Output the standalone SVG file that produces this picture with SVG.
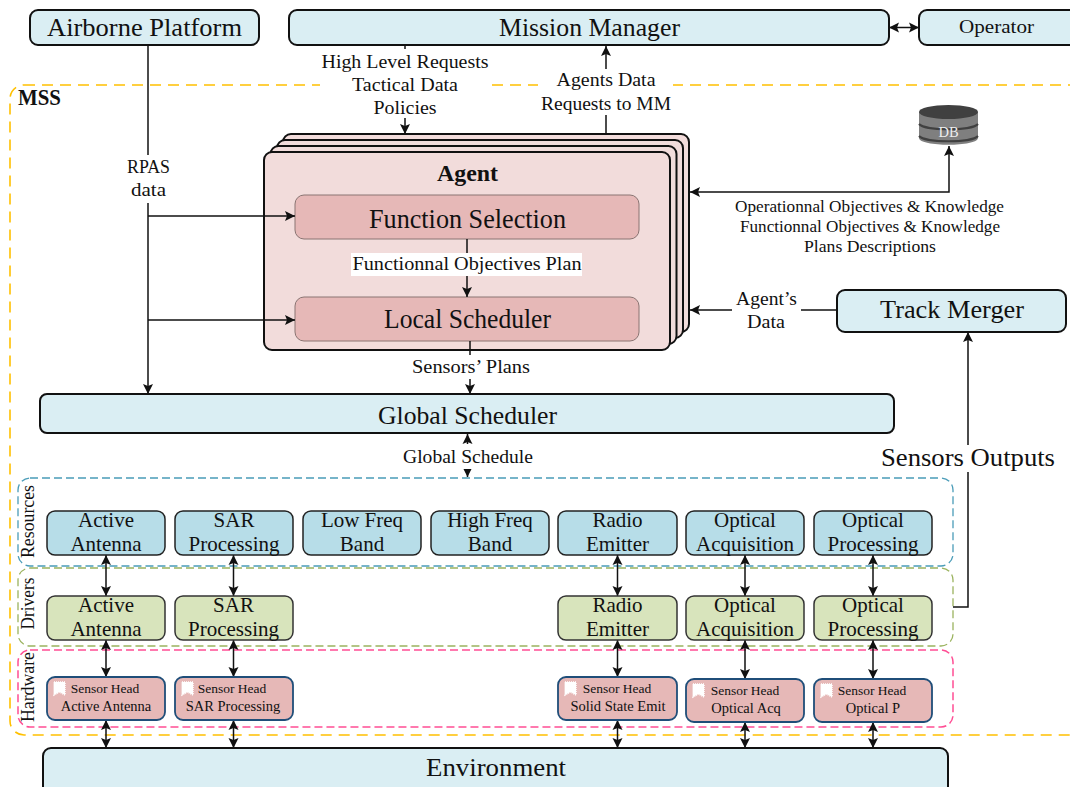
<svg xmlns="http://www.w3.org/2000/svg" width="1070" height="787" viewBox="0 0 1070 787">
<style>
text{font-family:"Liberation Serif","Times New Roman",serif;fill:#111;text-anchor:middle}
.b{stroke:#111;stroke-width:2}
.light{fill:#daeef3}
.agent{fill:#f2dcdb;stroke:#111;stroke-width:2}
.inner{fill:#e6b8b7;stroke:#8a7472;stroke-width:1}
.res{fill:#b7dde8;stroke:#222;stroke-width:1.5}
.drv{fill:#d8e4bc;stroke:#333;stroke-width:1.5}
.hw{fill:#e6b8b7;stroke:#1f4e79;stroke-width:1.8}
.t25{font-size:25px}.t19{font-size:19.5px}.t18{font-size:18px}.t17{font-size:17px}.t21{font-size:21px}.t13{font-size:13.5px}.t14{font-size:14.5px}
.bold{font-weight:bold}
.wb{fill:#fff}
.c{fill:none;stroke:#111;stroke-width:1.5}
.one{marker-end:url(#a)}
.two{marker-start:url(#a);marker-end:url(#a)}
.chip{fill:#fff;stroke:#fff;stroke-width:1.5;stroke-dasharray:1 1}
</style>
<defs>
<marker id="a" markerUnits="userSpaceOnUse" markerWidth="12" markerHeight="12" refX="11" refY="6" orient="auto-start-reverse"><path d="M1 1L11 6L1 11L3 6Z" fill="#111"/></marker>
</defs>
<rect width="1070" height="787" fill="#fff"/>

<g id="containers" fill="none">
<rect id="mss" x="10" y="85" width="1100" height="650" rx="14" stroke="#ffc000" stroke-width="1.6" stroke-dasharray="11 7"/>
<rect id="resources" x="18" y="478" width="935" height="88" rx="12" stroke="#4a9cb8" stroke-width="1.3" stroke-dasharray="8 4"/>
<rect id="drivers" x="18" y="568" width="935" height="78" rx="12" stroke="#9bb35f" stroke-width="1.3" stroke-dasharray="8 4"/>
<rect id="hardware" x="18" y="650" width="935" height="77" rx="12" stroke="#ff4d94" stroke-width="1.5" stroke-dasharray="8 4"/>
</g>

<g id="agent-stack">
<rect class="agent" x="283" y="134" width="406" height="198" rx="8"/>
<rect class="agent" x="277" y="140" width="406" height="198" rx="8"/>
<rect class="agent" x="270.500" y="146" width="406" height="198" rx="8"/>
<rect class="agent" x="264" y="152" width="406" height="198" rx="8"/>
<text class="bold" x="467.500" y="181" font-size="24" textLength="61" lengthAdjust="spacingAndGlyphs">Agent</text>
</g>

<g id="function-selection"><rect class="inner" x="295" y="195" width="344" height="44" rx="9"/><text x="467.500" y="228" font-size="27" textLength="197" lengthAdjust="spacingAndGlyphs">Function Selection</text></g>
<g id="local-scheduler"><rect class="inner" x="295" y="297" width="344" height="44" rx="9"/><text x="467.500" y="328" font-size="27" textLength="167" lengthAdjust="spacingAndGlyphs">Local Scheduler</text></g>

<g id="connectors">
<path class="c one" d="M148 45V394"/>
<path class="c one" d="M148 216H295"/>
<path class="c one" d="M148 320H295"/>
<path class="c one" d="M405 45V134"/>
<path class="c one" d="M606 134V46"/>
<path class="c two" d="M889 27.500H919"/>
<path class="c two" d="M690 192H949V146"/>
<path class="c one" d="M837 310H690"/>
<path class="c one" d="M953 607H968V332"/>
<path class="c one" d="M467 239V297"/>
<path class="c one" d="M470 341V394"/>
<path class="c two" d="M467.500 434V477"/>
<path class="c two" d="M106 555V596"/><path class="c two" d="M233.500 555V596"/><path class="c two" d="M617.500 555V596"/><path class="c two" d="M745 555V596"/><path class="c two" d="M873 555V596"/>
<path class="c two" d="M106 640V677"/><path class="c two" d="M233.500 640V677"/><path class="c two" d="M617.500 640V677"/><path class="c two" d="M745 640V679"/><path class="c two" d="M873 640V679"/>
<path class="c two" d="M106 720V748"/><path class="c two" d="M233.500 720V748"/><path class="c two" d="M617.500 720V748"/><path class="c two" d="M745 722V748"/><path class="c two" d="M873 722V748"/>
</g>

<g id="connector-labels">
<rect class="wb" x="320" y="49" width="170" height="69"/>
<text class="t19" x="405" y="68" textLength="167" lengthAdjust="spacingAndGlyphs">High Level Requests</text>
<text class="t19" x="405" y="91" textLength="106" lengthAdjust="spacingAndGlyphs">Tactical Data</text>
<text class="t19" x="405" y="114" textLength="63" lengthAdjust="spacingAndGlyphs">Policies</text>
<rect class="wb" x="538" y="69" width="135" height="46"/>
<text class="t19" x="606" y="86" textLength="99" lengthAdjust="spacingAndGlyphs">Agents Data</text>
<text class="t19" x="606" y="110" textLength="130" lengthAdjust="spacingAndGlyphs">Requests to MM</text>
<rect class="wb" x="122" y="155" width="52" height="48"/>
<text class="t18" x="148.500" y="173" textLength="43" lengthAdjust="spacingAndGlyphs">RPAS</text>
<text class="t18" x="148.500" y="196" textLength="35" lengthAdjust="spacingAndGlyphs">data</text>
<rect class="wb" x="351" y="253" width="231" height="23"/>
<text class="t19" x="467" y="270" textLength="229" lengthAdjust="spacingAndGlyphs">Functionnal Objectives Plan</text>
<rect class="wb" x="408" y="355" width="126" height="24"/>
<text class="t19" x="471" y="373" textLength="118" lengthAdjust="spacingAndGlyphs">Sensors’ Plans</text>
<rect class="wb" x="399" y="444" width="138" height="25"/>
<text class="t19" x="468" y="462.500" textLength="130" lengthAdjust="spacingAndGlyphs">Global Schedule</text>
<text class="t17" x="869.500" y="212" textLength="269" lengthAdjust="spacingAndGlyphs">Operationnal Objectives &amp; Knowledge</text>
<text class="t17" x="870" y="232" textLength="260" lengthAdjust="spacingAndGlyphs">Functionnal Objectives &amp; Knowledge</text>
<text class="t17" x="870" y="252" textLength="132" lengthAdjust="spacingAndGlyphs">Plans Descriptions</text>
<rect class="wb" x="732" y="288" width="69" height="45"/>
<text class="t18" x="766.500" y="305" textLength="61" lengthAdjust="spacingAndGlyphs">Agent’s</text>
<text class="t18" x="766" y="328" textLength="38" lengthAdjust="spacingAndGlyphs">Data</text>
<rect class="wb" x="878" y="445" width="180" height="27"/>
<text x="968" y="466" font-size="25" textLength="174" lengthAdjust="spacingAndGlyphs">Sensors Outputs</text>
<text class="bold" x="39.500" y="105" font-size="23" textLength="43" lengthAdjust="spacingAndGlyphs">MSS</text>
<text class="t19" transform="translate(34 521.500) rotate(-90)" textLength="73" lengthAdjust="spacingAndGlyphs">Resources</text>
<text class="t19" transform="translate(34 603.500) rotate(-90)" textLength="52" lengthAdjust="spacingAndGlyphs">Drivers</text>
<text class="t19" transform="translate(34 687) rotate(-90)" textLength="70" lengthAdjust="spacingAndGlyphs">Hardware</text>
</g>

<g id="airborne-platform"><rect class="light b" x="30" y="10" width="229" height="35" rx="8"/><text class="t25" x="144.500" y="36" textLength="195" lengthAdjust="spacingAndGlyphs">Airborne Platform</text></g>
<g id="mission-manager"><rect class="light b" x="289" y="10" width="600" height="35" rx="8"/><text class="t25" x="589.500" y="36" textLength="181" lengthAdjust="spacingAndGlyphs">Mission Manager</text></g>
<g id="operator"><rect class="light b" x="919" y="10" width="160" height="35" rx="8"/><text class="t18" x="996.500" y="33" textLength="75" lengthAdjust="spacingAndGlyphs">Operator</text></g>
<g id="track-merger"><rect class="light b" x="837" y="290" width="229" height="42" rx="8"/><text class="t25" x="952" y="318" textLength="144" lengthAdjust="spacingAndGlyphs">Track Merger</text></g>
<g id="global-scheduler"><rect class="light b" x="40" y="394" width="854" height="39" rx="7"/><text class="t25" x="467.500" y="423.500" textLength="179" lengthAdjust="spacingAndGlyphs">Global Scheduler</text></g>
<g id="environment"><rect class="light b" x="43" y="748" width="905" height="50" rx="8"/><text class="t25" x="496" y="776" textLength="140" lengthAdjust="spacingAndGlyphs">Environment</text></g>

<g id="db">
<path d="M919 112V138C919 147 978 147 978 138V112Z" fill="#7f7f7f"/>
<path d="M919 124C925 131 972 131 978 124M919 136C925 143 972 143 978 136" fill="none" stroke="#404040" stroke-width="2"/>
<ellipse cx="948.500" cy="112" rx="29.500" ry="7" fill="#404040"/>
<text x="948.500" y="137" font-size="14.500" style="fill:#eee">DB</text>
</g>

<g id="res-active"><rect class="res" x="47" y="511" width="118" height="44" rx="8"/><text class="t21" x="106" y="527">Active</text><text class="t21" x="106" y="551">Antenna</text></g>
<g id="res-sar"><rect class="res" x="175" y="511" width="118" height="44" rx="8"/><text class="t21" x="234" y="527">SAR</text><text class="t21" x="234" y="551">Processing</text></g>
<g id="res-low"><rect class="res" x="303" y="511" width="118" height="44" rx="8"/><text class="t21" x="362" y="527">Low Freq</text><text class="t21" x="362" y="551">Band</text></g>
<g id="res-high"><rect class="res" x="431" y="511" width="118" height="44" rx="8"/><text class="t21" x="490" y="527">High Freq</text><text class="t21" x="490" y="551">Band</text></g>
<g id="res-radio"><rect class="res" x="558" y="511" width="119" height="44" rx="8"/><text class="t21" x="617.500" y="527">Radio</text><text class="t21" x="617.500" y="551">Emitter</text></g>
<g id="res-acq"><rect class="res" x="686" y="511" width="118" height="44" rx="8"/><text class="t21" x="745" y="527">Optical</text><text class="t21" x="745" y="551">Acquisition</text></g>
<g id="res-proc"><rect class="res" x="814" y="511" width="118" height="44" rx="8"/><text class="t21" x="873" y="527">Optical</text><text class="t21" x="873" y="551">Processing</text></g>

<g id="drv-active"><rect class="drv" x="47" y="596" width="118" height="44" rx="8"/><text class="t21" x="106" y="612">Active</text><text class="t21" x="106" y="636">Antenna</text></g>
<g id="drv-sar"><rect class="drv" x="175" y="596" width="118" height="44" rx="8"/><text class="t21" x="233.500" y="612">SAR</text><text class="t21" x="233.500" y="636">Processing</text></g>
<g id="drv-radio"><rect class="drv" x="558" y="596" width="119" height="44" rx="8"/><text class="t21" x="617.500" y="612">Radio</text><text class="t21" x="617.500" y="636">Emitter</text></g>
<g id="drv-acq"><rect class="drv" x="686" y="596" width="118" height="44" rx="8"/><text class="t21" x="745" y="612">Optical</text><text class="t21" x="745" y="636">Acquisition</text></g>
<g id="drv-proc"><rect class="drv" x="814" y="596" width="118" height="44" rx="8"/><text class="t21" x="873" y="612">Optical</text><text class="t21" x="873" y="636">Processing</text></g>

<g id="hw-active"><rect class="hw" x="47" y="677" width="118" height="43" rx="8"/><path class="chip" d="M54 682H65V695L59.500 692L54 695Z"/><text class="t13" x="105" y="693">Sensor Head</text><text class="t14" x="106" y="711">Active Antenna</text></g>
<g id="hw-sar"><rect class="hw" x="175" y="677" width="118" height="43" rx="8"/><path class="chip" d="M182 682H193V695L187.500 692L182 695Z"/><text class="t13" x="232" y="693">Sensor Head</text><text class="t14" x="233" y="711">SAR Processing</text></g>
<g id="hw-radio"><rect class="hw" x="558" y="677" width="119" height="43" rx="8"/><path class="chip" d="M565 682H576V695L570.500 692L565 695Z"/><text class="t13" x="617" y="693">Sensor Head</text><text class="t14" x="618" y="711">Solid State Emit</text></g>
<g id="hw-acq"><rect class="hw" x="686" y="679" width="118" height="43" rx="8"/><path class="chip" d="M693 684H704V697L698.500 694L693 697Z"/><text class="t13" x="745" y="695">Sensor Head</text><text class="t14" x="746" y="713">Optical Acq</text></g>
<g id="hw-proc"><rect class="hw" x="814" y="679" width="118" height="43" rx="8"/><path class="chip" d="M821 684H832V697L826.500 694L821 697Z"/><text class="t13" x="872" y="695">Sensor Head</text><text class="t14" x="873" y="713">Optical P</text></g>
</svg>
